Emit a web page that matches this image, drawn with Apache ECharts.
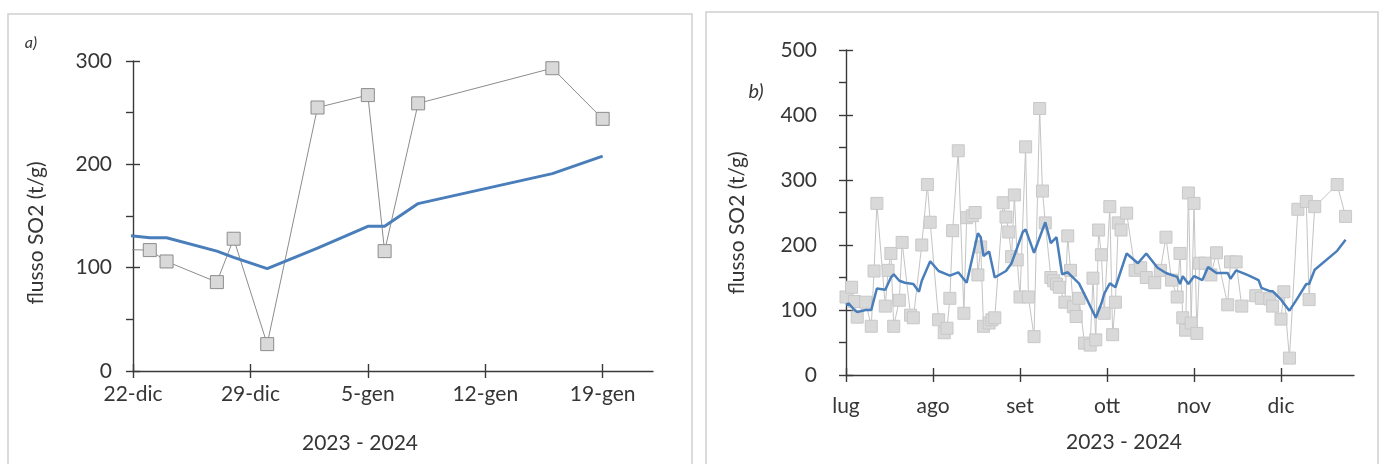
<!DOCTYPE html>
<html>
<head>
<meta charset="utf-8">
<script src="https://cdn.jsdelivr.net/npm/echarts@6/dist/echarts.min.js"></script>
<style>
    html, body { margin: 0; padding: 0; background: #fff; }
    #chart { width: 1384px; height: 464px; }
</style>
</head>
<body>
<div id="chart"></div>
<script>
// osservazioni (quadrati grigi)
const obsDates = [
    '2023-07-25', '2023-07-27', '2023-07-28', '2023-07-29', '2023-08-01', '2023-08-03', '2023-08-04', '2023-08-05',
    '2023-08-08', '2023-08-09', '2023-08-10', '2023-08-11', '2023-08-13', '2023-08-14', '2023-08-17', '2023-08-18',
    '2023-08-21', '2023-08-23', '2023-08-24', '2023-08-27', '2023-08-29', '2023-08-30', '2023-08-31', '2023-09-01',
    '2023-09-03', '2023-09-05', '2023-09-06', '2023-09-08', '2023-09-09', '2023-09-10', '2023-09-11', '2023-09-12',
    '2023-09-14', '2023-09-15', '2023-09-16', '2023-09-19', '2023-09-20', '2023-09-21', '2023-09-22', '2023-09-23',
    '2023-09-24', '2023-09-25', '2023-09-27', '2023-09-28', '2023-09-30', '2023-10-02', '2023-10-03', '2023-10-04',
    '2023-10-06', '2023-10-07', '2023-10-08', '2023-10-09', '2023-10-11', '2023-10-12', '2023-10-13', '2023-10-14',
    '2023-10-15', '2023-10-16', '2023-10-18', '2023-10-20', '2023-10-21', '2023-10-22', '2023-10-23', '2023-10-24',
    '2023-10-25', '2023-10-27', '2023-10-28', '2023-10-29', '2023-10-30', '2023-10-31', '2023-11-02', '2023-11-05',
    '2023-11-07', '2023-11-09', '2023-11-12', '2023-11-14', '2023-11-16', '2023-11-18', '2023-11-20', '2023-11-21',
    '2023-11-22', '2023-11-23', '2023-11-24', '2023-11-25', '2023-11-26', '2023-11-27', '2023-11-28', '2023-11-30',
    '2023-12-02', '2023-12-04', '2023-12-08', '2023-12-09', '2023-12-11', '2023-12-13', '2023-12-18', '2023-12-20',
    '2023-12-23', '2023-12-24', '2023-12-27', '2023-12-28', '2023-12-30', '2024-01-02', '2024-01-05', '2024-01-06',
    '2024-01-08', '2024-01-16', '2024-01-19'
];
const obsValues = [
    120, 135, 113, 89, 112, 75, 160, 264,
    106, 161, 187, 75, 115, 204, 92, 88,
    200, 293, 235, 85, 65, 72, 118, 222,
    345, 95, 242, 245, 250, 154, 197, 75,
    80, 85, 88, 265, 243, 220, 182, 277,
    177, 120, 351, 120, 59, 410, 283, 234,
    150, 145, 140, 135, 112, 214, 161, 105,
    90, 118, 49, 46, 149, 54, 223, 185,
    95, 259, 62, 112, 234, 223, 249, 161,
    165, 150, 142, 161, 212, 146, 120, 187,
    88, 69, 280, 80, 264, 64, 172, 172,
    154, 188, 108, 174, 174, 106, 122, 118,
    117, 106, 86, 128, 26, 255, 267, 116,
    259, 293, 244
];

// media mobile (linea blu)
const avgDates = [
    '2023-07-25', '2023-07-26', '2023-07-28', '2023-07-29', '2023-08-01', '2023-08-03', '2023-08-05', '2023-08-08',
    '2023-08-10', '2023-08-11', '2023-08-13', '2023-08-15', '2023-08-18', '2023-08-20', '2023-08-21', '2023-08-24',
    '2023-08-27', '2023-08-31', '2023-09-03', '2023-09-06', '2023-09-10', '2023-09-11', '2023-09-12', '2023-09-14',
    '2023-09-16', '2023-09-20', '2023-09-22', '2023-09-26', '2023-09-27', '2023-09-30', '2023-10-04', '2023-10-06',
    '2023-10-08', '2023-10-10', '2023-10-12', '2023-10-16', '2023-10-19', '2023-10-22', '2023-10-24', '2023-10-25',
    '2023-10-27', '2023-10-29', '2023-11-02', '2023-11-06', '2023-11-09', '2023-11-13', '2023-11-16', '2023-11-20',
    '2023-11-21', '2023-11-22', '2023-11-24', '2023-11-26', '2023-11-29', '2023-12-01', '2023-12-04', '2023-12-08',
    '2023-12-09', '2023-12-11', '2023-12-15', '2023-12-19', '2023-12-20', '2023-12-23', '2023-12-24', '2023-12-27',
    '2023-12-28', '2023-12-30', '2024-01-02', '2024-01-05', '2024-01-06', '2024-01-08', '2024-01-16', '2024-01-19'
];
const avgValues = [
    108, 110, 100, 97, 100, 100, 133, 131,
    150, 155, 145, 142, 140, 128, 145, 175,
    160, 153, 158, 142, 218, 212, 183, 190,
    150, 160, 172, 220, 224, 188, 235, 203,
    212, 155, 158, 141, 115, 88, 110, 125,
    141, 135, 187, 172, 187, 165, 157, 151,
    140, 152, 140, 152, 146, 166, 157, 157,
    148, 161, 154, 146, 134, 129, 129, 116,
    110, 99, 119, 140, 140, 162, 191, 208
];

// assi x
const ticksA = ['2023-12-22', '2023-12-29', '2024-01-05', '2024-01-12', '2024-01-19'];
const tickLabelsA = ['22-dic', '29-dic', '5-gen', '12-gen', '19-gen'];
const ticksB = ['2023-07-25', '2023-08-25', '2023-09-25', '2023-10-26', '2023-11-26', '2023-12-27'];
const tickLabelsB = ['lug', 'ago', 'set', 'ott', 'nov', 'dic'];

const DAY = 86400000;
function dayNum(s) {
    const p = s.split('-');
    return Date.UTC(+p[0], +p[1] - 1, +p[2]) / DAY;
}
const originA = dayNum('2023-12-22');
const originB = dayNum('2023-07-25');
const lastDay = dayNum('2024-01-22');

function pairs(dates, values, origin) {
    return dates.map((d, i) => [dayNum(d) - origin, values[i]]);
}

const FONT = 'Lato';
const FS = 21;
const TXT = '#363636';
const AXIS = '#3a3a3a';

function xAxisOf(grid, origin, ticks, labels, margin, ghost) {
    const pos = ticks.map(t => dayNum(t) - origin);
    return {
        type: 'value',
        gridIndex: grid,
        min: 0,
        max: lastDay - origin,
        splitLine: { show: false },
        axisLine: { show: !ghost, onZero: false, lineStyle: { color: AXIS, width: 1.4 } },
        axisTick: { show: true, inside: ghost, customValues: pos, length: 7, lineStyle: { color: AXIS, width: 1.4 } },
        axisLabel: {
            show: !ghost,
            customValues: pos,
            margin: margin,
            fontFamily: FONT,
            fontSize: FS,
            color: TXT,
            formatter: v => {
                const i = pos.indexOf(Math.round(v));
                return i >= 0 ? labels[i] : '';
            }
        }
    };
}

function yAxisOf(grid, max, margin, ghost) {
    return {
        type: 'value',
        gridIndex: grid,
        min: 0,
        max: max,
        interval: 100,
        splitLine: { show: false },
        axisLine: { show: !ghost, onZero: false, lineStyle: { color: AXIS, width: 1.4 } },
        axisTick: { show: true, inside: ghost, length: 7, lineStyle: { color: AXIS, width: 1.4 } },
        minorTick: { show: !ghost, splitNumber: 2, length: 7, lineStyle: { color: AXIS, width: 1.4 } },
        minorSplitLine: { show: false },
        axisLabel: { show: !ghost, margin: margin, fontFamily: FONT, fontSize: FS, color: TXT }
    };
}

const gridA = { left: 133, top: 61, width: 520, height: 310 };
const gridB = { left: 846, top: 50, width: 508, height: 325 };

function textEl(text, x, y, size, opts, italic) {
    return Object.assign({
        type: 'text',
        x: x,
        y: y,
        style: {
            text: text,
            fontFamily: FONT,
            fontSize: size,
            fontStyle: italic ? 'italic' : 'normal',
            fill: TXT,
            align: 'center',
            verticalAlign: 'middle'
        }
    }, opts || {});
}

const chart = echarts.init(document.getElementById('chart'), null, { renderer: 'canvas' });

chart.setOption({
    animation: false,
    backgroundColor: '#fff',
    grid: [gridA, gridA, gridB, gridB],
    xAxis: [
        xAxisOf(0, originA, ticksA, tickLabelsA, 13, false),
        xAxisOf(1, originA, ticksA, tickLabelsA, 13, true),
        xAxisOf(2, originB, ticksB, tickLabelsB, 21, false),
        xAxisOf(3, originB, ticksB, tickLabelsB, 21, true)
    ],
    yAxis: [
        yAxisOf(0, 300, 21, false),
        yAxisOf(1, 300, 21, true),
        yAxisOf(2, 500, 29, false),
        yAxisOf(3, 500, 29, true)
    ],
    graphic: [
        { type: 'rect', shape: { x: 8, y: 14, width: 684, height: 470 }, style: { fill: 'none', stroke: '#d0d0d0', lineWidth: 1.5 } },
        { type: 'rect', shape: { x: 706, y: 12, width: 672, height: 470 }, style: { fill: 'none', stroke: '#d0d0d0', lineWidth: 1.5 } },
        textEl('a)', 31, 43, 16, {}, true),
        textEl('b)', 756, 92, 20, {}, true),
        textEl('flusso SO2 (t/g)', 36, 233, FS, { rotation: Math.PI / 2 }),
        textEl('flusso SO2 (t/g)', 737, 223, FS, { rotation: Math.PI / 2 }),
        textEl('2023 - 2024', 360, 443, FS, {}),
        textEl('2023 - 2024', 1124, 442, FS, {})
    ],
    series: [
        {
            type: 'line',
            xAxisIndex: 0,
            yAxisIndex: 0,
            data: pairs(obsDates, obsValues, originA),
            clip: true,
            symbol: 'rect',
            symbolSize: 13,
            showAllSymbol: true,
            lineStyle: { color: '#8c8c8c', width: 1 },
            itemStyle: { color: '#d9d9d9', borderColor: '#8c8c8c', borderWidth: 1 },
            z: 2
        },
        {
            type: 'line',
            xAxisIndex: 0,
            yAxisIndex: 0,
            data: pairs(avgDates, avgValues, originA),
            clip: true,
            symbol: 'none',
            lineStyle: { color: '#4a7ebb', width: 3 },
            z: 3
        },
        {
            type: 'line',
            xAxisIndex: 2,
            yAxisIndex: 2,
            data: pairs(obsDates, obsValues, originB),
            clip: true,
            symbol: 'rect',
            symbolSize: 12,
            showAllSymbol: true,
            lineStyle: { color: '#c4c4c4', width: 1 },
            itemStyle: { color: '#d9d9d9', borderColor: '#c8c8c8', borderWidth: 1 },
            z: 2
        },
        {
            type: 'line',
            xAxisIndex: 2,
            yAxisIndex: 2,
            data: pairs(avgDates, avgValues, originB),
            clip: true,
            symbol: 'none',
            lineStyle: { color: '#4a7ebb', width: 2.5 },
            z: 3
        }
    ]
});
</script>
</body>
</html>
